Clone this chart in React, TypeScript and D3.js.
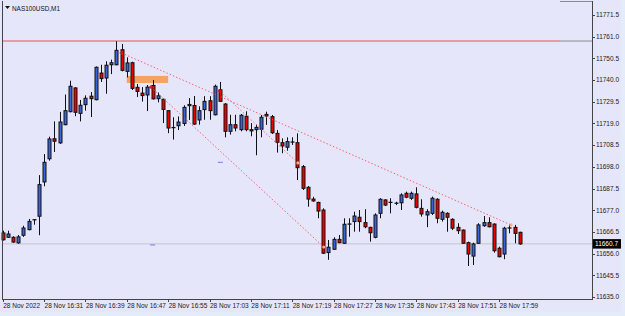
import * as d3 from "d3";

// NAS100USD M1, 28 Nov 2022 16:23 .. 18:03 (one candle per minute)
const opens = [
  11666.0, 11663.9, 11663.9, 11661.2, 11664.9, 11667.6, 11672.2, 11674.1, 11690.7, 11701.9,
  11711.6, 11709.6, 11718.4, 11724.7, 11736.2, 11723.9, 11728.1, 11732.2, 11730.5, 11743.4,
  11741.0, 11747.4, 11747.4, 11754.7, 11744.2, 11748.4, 11736.5, 11733.7, 11732.8, 11737.4,
  11731.0, 11730.7, 11725.2, 11717.0, 11717.9, 11719.0, 11727.6, 11727.7, 11720.7, 11725.7,
  11730.0, 11723.2, 11735.3, 11728.4, 11715.2, 11718.4, 11716.0, 11722.5, 11716.0, 11716.0,
  11716.2, 11723.4, 11722.3, 11714.2, 11709.7, 11707.5, 11710.0, 11709.7, 11698.1, 11688.1,
  11682.4, 11680.8, 11677.1, 11656.5, 11658.1, 11662.9, 11661.0, 11670.3, 11671.5, 11673.6,
  11671.0, 11668.7, 11663.9, 11675.5, 11682.0, 11680.6, 11680.4, 11680.6, 11685.2, 11682.8,
  11684.9, 11677.9, 11674.7, 11675.5, 11682.3, 11672.6, 11675.5, 11672.6, 11668.7, 11667.4,
  11661.3, 11654.8, 11661.0, 11669.5, 11671.0, 11670.3, 11658.6, 11655.8, 11668.3, 11668.7,
  11666.3,
];
const highs = [
  11667.1, 11667.1, 11664.4, 11665.0, 11669.5, 11672.8, 11672.5, 11694.0, 11704.2, 11712.6,
  11720.0, 11724.6, 11733.0, 11739.7, 11736.6, 11730.4, 11732.6, 11734.2, 11746.6, 11747.4,
  11749.1, 11749.9, 11758.8, 11757.5, 11751.0, 11748.9, 11738.1, 11736.6, 11737.6, 11740.0,
  11734.0, 11731.0, 11725.4, 11722.0, 11722.4, 11727.8, 11731.3, 11732.3, 11727.3, 11732.2,
  11732.2, 11737.8, 11739.1, 11728.9, 11723.2, 11723.2, 11723.6, 11724.9, 11719.2, 11718.4,
  11723.1, 11724.7, 11723.1, 11715.8, 11711.8, 11712.3, 11712.3, 11714.2, 11698.9, 11688.7,
  11683.5, 11681.1, 11677.9, 11662.6, 11663.9, 11665.0, 11673.1, 11673.1, 11676.3, 11677.1,
  11677.5, 11669.0, 11675.5, 11682.8, 11682.3, 11682.8, 11681.1, 11685.2, 11686.0, 11686.0,
  11688.1, 11682.3, 11677.5, 11683.6, 11682.8, 11676.8, 11676.0, 11673.1, 11670.7, 11667.7,
  11661.8, 11661.3, 11670.7, 11674.2, 11673.6, 11670.7, 11659.4, 11669.0, 11670.3, 11669.9,
  11666.6,
];
const lows = [
  11662.3, 11663.6, 11661.2, 11660.8, 11664.1, 11667.3, 11670.0, 11664.9, 11688.6, 11701.0,
  11705.2, 11709.1, 11718.1, 11724.4, 11722.5, 11720.0, 11725.2, 11722.1, 11730.2, 11739.1,
  11733.4, 11742.9, 11747.2, 11744.2, 11741.3, 11735.2, 11731.8, 11729.6, 11725.0, 11730.6,
  11729.2, 11719.2, 11714.3, 11711.2, 11715.8, 11717.8, 11720.7, 11718.3, 11718.4, 11720.8,
  11720.8, 11722.9, 11729.4, 11712.3, 11713.6, 11715.2, 11715.2, 11715.2, 11712.8, 11703.6,
  11712.3, 11718.3, 11713.9, 11704.9, 11704.6, 11705.8, 11708.6, 11691.6, 11686.8, 11678.7,
  11681.1, 11673.1, 11655.8, 11653.0, 11657.8, 11661.0, 11660.7, 11664.2, 11666.6, 11666.6,
  11668.3, 11661.8, 11663.4, 11673.1, 11679.0, 11675.5, 11679.5, 11677.1, 11682.8, 11682.0,
  11677.9, 11673.9, 11668.8, 11674.7, 11670.7, 11671.5, 11666.6, 11667.4, 11665.5, 11660.7,
  11650.0, 11650.5, 11660.7, 11669.0, 11668.7, 11656.5, 11654.2, 11653.3, 11665.8, 11661.0,
  11660.3,
];
const closes = [
  11662.7, 11665.5, 11661.6, 11664.1, 11668.4, 11671.6, 11672.4, 11689.4, 11700.2, 11711.5,
  11710.4, 11719.7, 11725.2, 11737.0, 11724.4, 11727.8, 11731.2, 11731.0, 11746.2, 11740.7,
  11747.2, 11748.4, 11754.4, 11744.7, 11748.3, 11736.0, 11734.5, 11732.5, 11736.6, 11730.9,
  11732.4, 11725.8, 11716.8, 11716.8, 11719.7, 11726.8, 11728.2, 11718.7, 11725.2, 11729.7,
  11725.2, 11737.0, 11729.7, 11715.2, 11718.4, 11716.8, 11723.0, 11716.0, 11715.4, 11717.1,
  11722.0, 11722.6, 11714.5, 11709.9, 11708.1, 11710.2, 11709.8, 11697.6, 11687.6, 11682.4,
  11681.5, 11676.6, 11656.2, 11659.1, 11662.9, 11661.3, 11670.2, 11670.2, 11674.2, 11671.5,
  11669.0, 11666.1, 11674.7, 11682.3, 11679.5, 11680.8, 11680.4, 11684.4, 11683.3, 11685.2,
  11678.4, 11675.2, 11676.3, 11682.8, 11673.1, 11676.0, 11673.6, 11668.3, 11667.1, 11661.0,
  11655.8, 11660.7, 11669.9, 11671.0, 11669.0, 11657.4, 11654.5, 11668.3, 11668.4, 11665.8,
  11660.7,
];

const priceTicks = [
  11771.5, 11761.0, 11750.5, 11740.0, 11729.5, 11719.0, 11708.5, 11698.0, 11687.5, 11677.0,
  11666.5, 11656.0, 11645.5, 11635.0,
];
const timeTickBars = [0, 8, 16, 24, 32, 40, 48, 56, 64, 72, 80, 88, 96];
const timeTickLabels = [
  "28 Nov 2022", "28 Nov 16:31", "28 Nov 16:39", "28 Nov 16:47", "28 Nov 16:55",
  "28 Nov 17:03", "28 Nov 17:11", "28 Nov 17:19", "28 Nov 17:27", "28 Nov 17:35",
  "28 Nov 17:43", "28 Nov 17:51", "28 Nov 17:59",
];

const bidPrice = 11660.7;
const hLinePrice = 11758.9;
// trend lines: [bar, price] -> [bar, price]
const trendLines: [number, number, number, number][] = [
  [23.0, 11753.1, 98.3, 11669.9],
  [28.7, 11736.6, 62.1, 11659.2],
  [42.0, 11734.7, 57.1, 11699.9],
];
const zone = { bar0: 24.0, bar1: 32.0, p0: 11742.0, p1: 11738.6 };
const dashes: [number, number][] = [
  [42.1, 11700.2],
  [29.0, 11660.2],
];

const W = 625;
const H = 316;
const left = 2;
const right = 592;
const top = 1;
const bottom = 299;
const font = "'Liberation Sans', Arial, sans-serif";

export default function App() {
  const x = d3.scaleLinear().domain([0, 100]).range([2.7, 519.7]);
  const y = d3.scaleLinear().domain([11635.0, 11771.5]).range([297, 15]);
  const bw = 3;

  return (
    <svg
      width={W}
      height={H}
      style={{ position: "absolute", left: 0, top: 0, display: "block" }}
    >
      <rect x={0} y={0} width={W} height={H} fill="#e3ecf8" />
      <rect x={0} y={0} width={621} height={312} fill="#e6e6fa" />

      {/* bid line */}
      <line x1={left} x2={right} y1={y(bidPrice)} y2={y(bidPrice)} stroke="#c4c4cc" strokeWidth={1} />

      {/* horizontal level */}
      <line x1={left} x2={560} y1={y(hLinePrice)} y2={y(hLinePrice)} stroke="#e8808c" strokeWidth={1.5} />
      <line x1={560} x2={right} y1={y(hLinePrice)} y2={y(hLinePrice)} stroke="#8a8a94" strokeWidth={1} />
      <line x1={560} x2={right} y1={top + 0.5} y2={top + 0.5} stroke="#8a8a94" strokeWidth={1} />

      {/* zone rectangle */}
      <rect
        x={x(zone.bar0)}
        y={y(zone.p0)}
        width={x(zone.bar1) - x(zone.bar0)}
        height={y(zone.p1) - y(zone.p0)}
        fill="#f4a460"
      />

      {/* candles */}
      {opens.map((o, i) => {
        const c = closes[i];
        const cx = Math.round(x(i)) + 0.5;
        const bull = c >= o;
        const yTop = y(Math.max(o, c));
        const yBot = y(Math.min(o, c));
        const h = Math.max(yBot - yTop, 0.01);
        return (
          <g key={i}>
            <line x1={cx} x2={cx} y1={y(highs[i])} y2={y(lows[i])} stroke="#111" strokeWidth={1} />
            {h < 1.2 ? (
              <line x1={cx - 2} x2={cx + 2} y1={yTop} y2={yTop} stroke="#111" strokeWidth={1.3} />
            ) : (
              <rect
                x={cx - bw / 2}
                y={yTop}
                width={bw}
                height={h}
                fill={bull ? "#3a64d8" : "#ee0000"}
                stroke="#111"
                strokeWidth={1}
              />
            )}
          </g>
        );
      })}

      {/* trend lines */}
      {trendLines.map(([b0, p0, b1, p1], i) => (
        <g key={i}>
          <line
            x1={x(b0)}
            y1={y(p0)}
            x2={x(b1)}
            y2={y(p1)}
            stroke="#f2505a"
            strokeOpacity={0.85}
            strokeWidth={1}
            strokeDasharray="1.5,2"
          />
          <path
            d={`M${x(b0) - 2},${y(p0)}h4M${x(b0)},${y(p0) - 2}v4`}
            stroke="#f00000"
            strokeWidth={1.2}
          />
          <circle cx={x(b1)} cy={y(p1)} r={1.6} fill="#f4b080" />
        </g>
      ))}

      {dashes.map(([b, p], i) => (
        <line key={i} x1={x(b) - 2.5} x2={x(b) + 2.5} y1={y(p)} y2={y(p)} stroke="#6a7cf0" strokeWidth={1} />
      ))}

      {/* frame */}
      <line x1={left + 0.5} x2={left + 0.5} y1={top} y2={bottom} stroke="#444" />
      <line x1={left} x2={right} y1={bottom + 0.5} y2={bottom + 0.5} stroke="#444" />
      <line x1={right + 0.5} x2={right + 0.5} y1={top} y2={bottom + 1} stroke="#444" />

      {/* price axis */}
      {priceTicks.map((p) => (
        <g key={p}>
          <line x1={right} x2={right + 3} y1={Math.round(y(p)) + 0.5} y2={Math.round(y(p)) + 0.5} stroke="#444" />
          <text x={596} y={y(p)} dy="0.35em" fontSize={6.5} fontFamily={font} fill="#222">
            {p.toFixed(1)}
          </text>
        </g>
      ))}
      <rect x={593} y={y(bidPrice) - 4.8} width={28} height={9.5} fill="#000" />
      <text x={595} y={y(bidPrice)} dy="0.35em" fontSize={6.5} fontFamily={font} fill="#fff">
        {bidPrice.toFixed(1)}
      </text>

      {/* time axis */}
      {timeTickBars.map((b, i) => (
        <g key={b}>
          <line x1={Math.round(x(b)) + 0.5} x2={Math.round(x(b)) + 0.5} y1={bottom} y2={bottom + 3} stroke="#444" />
          <text x={x(b) + 0.5} y={308} fontSize={6.5} fontFamily={font} fill="#222">
            {timeTickLabels[i]}
          </text>
        </g>
      ))}

      {/* title */}
      <path d="M5,6 L10,6 L7.5,9 Z" fill="#111" />
      <text x={12} y={11} fontSize={6.4} fontFamily={font} fill="#111">
        NAS100USD,M1
      </text>
    </svg>
  );
}
